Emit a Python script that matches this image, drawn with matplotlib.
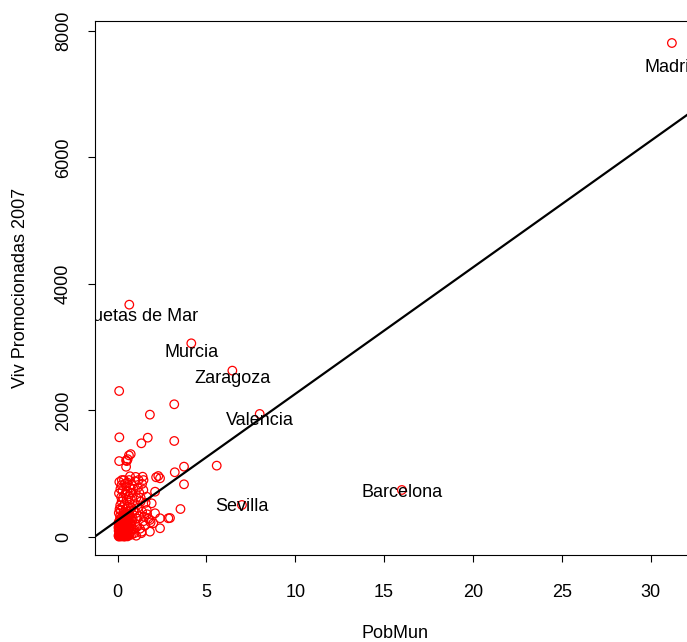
import numpy as np
import matplotlib
matplotlib.use('Agg')
import matplotlib.pyplot as plt

plt.rcParams['font.family'] = ['Liberation Sans', 'DejaVu Sans']

# municipios con nombre
nombres = ['Madrid', 'Barcelona', 'Valencia', 'Sevilla', 'Zaragoza', 'Murcia', 'Roquetas de Mar']
nom_x = [31.2, 16.0, 8.0, 7.0, 6.46, 4.15, 0.66]
nom_y = [7810, 743, 1945, 506, 2630, 3062, 3673]

# resto de municipios
pob = [0.09, 3.19, 1.82, 0.10, 1.70, 1.34, 3.19, 0.74, 0.57, 0.52, 0.09, 0.48, 3.74, 3.22, 5.58, 3.74, 3.54, 2.95,
       1.41, 2.17, 2.39, 2.29, 1.45, 2.11, 1.64, 1.92, 1.64, 2.11, 2.39, 2.86, 2.01, 2.39, 1.36, 1.82, 1.82,
       0.05, 0.08, 0.12, 0.16, 0.2, 0.24, 0.28, 0.32, 0.36, 0.4, 0.44, 0.48, 0.52, 0.56, 0.6, 0.64, 0.68, 0.72, 0.76, 0.8,
       0.06, 0.1, 0.14, 0.18, 0.22, 0.26, 0.3, 0.34, 0.38, 0.42, 0.46, 0.5, 0.54, 0.58, 0.62, 0.66, 0.7, 0.74, 0.78, 0.82,
       0.05, 0.1, 0.15, 0.2, 0.25, 0.3, 0.35, 0.4, 0.45, 0.5, 0.55, 0.6, 0.65, 0.7, 0.85, 0.9, 0.95, 1.0, 1.05, 1.1,
       0.07, 0.11, 0.15, 0.19, 0.23, 0.27, 0.31, 0.35, 0.39, 0.43, 0.47, 0.51, 0.55, 0.59, 0.63, 0.67, 0.71, 0.75, 0.79, 0.83,
       0.08, 0.1, 0.16, 0.22, 0.28, 0.36, 0.42, 0.48, 0.55, 0.65, 0.72, 0.82, 0.9, 0.98, 1.06, 1.14, 1.22, 1.3, 1.38, 1.46,
       0.9, 0.98, 1.06, 1.14, 1.22, 1.3, 1.38, 1.46, 1.54, 1.66, 1.74, 1.86, 1.1, 1.26, 1.34, 1.5, 1.58, 1.18, 1.02, 0.7,
       0.08, 0.16, 0.24, 0.32, 0.4, 0.48, 0.56, 0.12, 0.2, 0.28, 0.36, 0.44, 0.52, 0.05, 0.08, 0.16, 0.24, 0.32, 0.4, 0.48,
       0.1, 0.18, 0.26, 0.34, 0.42, 0.5, 0.58, 0.06, 0.14, 0.22, 0.3, 0.38, 0.46, 0.54, 0.24, 0.2, 0.48, 0.64]
viv = [2308, 2098, 1934, 1576, 1570, 1481, 1518, 1310, 1230, 1200, 1200, 1110, 1112, 1023, 1128, 833, 442, 300,
       953, 944, 928, 964, 743, 716, 637, 532, 427, 375, 296, 296, 217, 138, 84, 84, 269,
       20, 35, 50, 15, 60, 25, 80, 40, 10, 70, 30, 90, 45, 20, 110, 55, 30, 75, 130, 40,
       100, 140, 120, 170, 95, 150, 200, 130, 180, 220, 160, 240, 190, 260, 210, 150, 230, 280, 190, 250,
       210, 250, 290, 230, 310, 270, 320, 290, 340, 300, 350, 320, 370, 340, 300, 120, 60, 200, 20, 160,
       380, 440, 500, 420, 560, 470, 620, 390, 520, 680, 450, 590, 720, 480, 640, 540, 780, 600, 460, 700,
       690, 870, 760, 820, 730, 900, 840, 800, 860, 900, 700, 820, 760, 880, 620, 780, 700, 560, 840, 900,
       420, 520, 380, 460, 330, 620, 400, 250, 180, 360, 290, 230, 290, 130, 60, 320, 540, 900, 950, 960,
       5, 12, 8, 18, 6, 14, 9, 60, 45, 105, 65, 115, 85, 150, 170, 130, 180, 110, 240, 200,
       25, 70, 40, 95, 55, 75, 130, 230, 330, 250, 280, 360, 260, 400, 900, 630, 1210, 1290]

# recta de regresion (abline del lm)
b0 = 262
b1 = 200

fig = plt.figure(figsize=(6.87, 6.42), dpi=100)
ax = fig.add_axes([95 / 687, 87 / 642, 600 / 687, 534 / 642])

ax.scatter(pob + nom_x, viv + nom_y, s=38, facecolors='none', edgecolors='red', linewidths=0.9, zorder=2)
ax.axline((0, b0), slope=b1, color='black', lw=1.6, zorder=3)

for n, a, b in zip(nombres, nom_x, nom_y):
    ax.text(a, b * 0.95, n, ha='center', va='center', fontsize=13, color='black', clip_on=True, zorder=4)

ax.set_xlim(-1.27, 32.5)
ax.set_ylim(-285, 8158)
ax.set_xticks([0, 5, 10, 15, 20, 25, 30])
ax.set_yticks([0, 2000, 4000, 6000, 8000])
ax.tick_params(axis='x', length=5, width=0.8, pad=16, labelsize=13)
ax.tick_params(axis='y', length=5, width=0.8, pad=11.5, labelsize=13, labelrotation=90)
for t in ax.get_yticklabels():
    t.set_va('center')
for s in ax.spines.values():
    s.set_linewidth(0.8)

ax.set_xlabel('PobMun', fontsize=13, labelpad=17)
ax.set_ylabel('Viv Promocionadas 2007', fontsize=13, labelpad=18.8)

fig.savefig('out.png', dpi=100)
